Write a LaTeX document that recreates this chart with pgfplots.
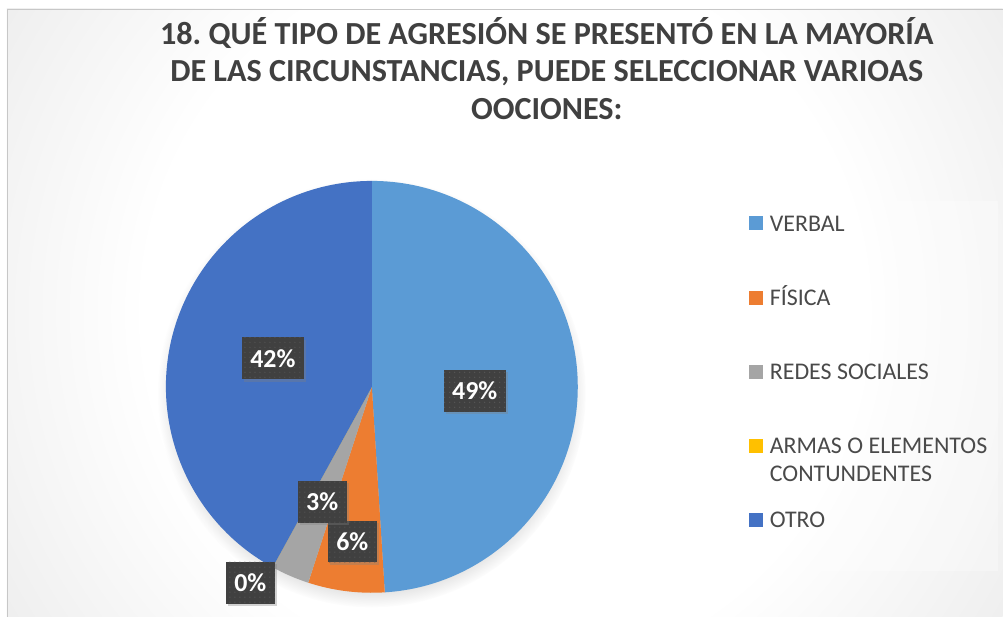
\documentclass[border=0pt]{standalone}
\usepackage{pgfplots}
\pgfplotsset{compat=1.18}
\usepackage{pgfplotstable}
\usepackage{fontspec}
\setmainfont{Carlito}
\usetikzlibrary{shadows,patterns.meta}
\frenchspacing

\definecolor{pc0}{HTML}{5B9BD5}
\definecolor{pc1}{HTML}{ED7D31}
\definecolor{pc2}{HTML}{A5A5A5}
\definecolor{pc3}{HTML}{FFC000}
\definecolor{pc4}{HTML}{4472C4}
\definecolor{bgedge}{HTML}{C2C2C2}
\definecolor{titlegray}{HTML}{404040}
\definecolor{legtext}{HTML}{4A4A4A}
\definecolor{labbg}{HTML}{404040}
\definecolor{labdot}{HTML}{5C5C5C}

\pgfdeclareradialshading{bgshade}{\pgfpoint{0bp}{0bp}}{color(0bp)=(white); color(14.5bp)=(white); color(48.4bp)=(bgedge); color(50bp)=(bgedge)}

% value = percentage, rfrac = label distance (fraction of radius), dang = label angle offset
\pgfplotstableread{
value rfrac dang
49 0.50 -4
6 0.757 0
3 0.607 0
0 1.12 -3
42 0.50 -1.6
}\piedata

\tikzset{lab/.style={fill=labbg, text=white, font=\bfseries\fontsize{26}{30}\selectfont,
  inner xsep=8.5bp, inner ysep=0bp, minimum height=42bp,
  postaction={pattern={Dots[radius=0.6bp, distance=5bp]}, pattern color=labdot},
  drop shadow={shadow xshift=2.5bp, shadow yshift=-2.5bp, opacity=0.35}},
  leg/.style={anchor=base west, inner sep=0pt, text=legtext, font=\fontsize{24}{28}\selectfont},
  ttl/.style={anchor=base, inner sep=0pt, text=titlegray, font=\bfseries\fontsize{32.3}{37}\selectfont}}

\begin{document}
\begin{tikzpicture}
\def\cum{0}
\pgfplotsforeachungrouped \i in {0,...,4}{%
  \pgfplotstablegetelem{\i}{value}\of\piedata \let\v\pgfplotsretval
  \pgfplotstablegetelem{\i}{rfrac}\of\piedata \let\rf\pgfplotsretval
  \pgfplotstablegetelem{\i}{dang}\of\piedata \let\da\pgfplotsretval
  \pgfmathsetmacro\sa{90-3.6*\cum}%
  \pgfmathsetmacro\cum{\cum+\v}%
  \pgfmathsetmacro\ea{90-3.6*\cum}%
  \pgfmathsetmacro\ma{(\sa+\ea)/2+\da}%
  \pgfmathsetmacro\lr{\rf*206}%
  \expandafter\xdef\csname pieS\i\endcsname{\sa}%
  \expandafter\xdef\csname pieE\i\endcsname{\ea}%
  \expandafter\xdef\csname pieM\i\endcsname{\ma}%
  \expandafter\xdef\csname pieR\i\endcsname{\lr}%
  \pgfmathtruncatemacro\vv{\v}%
  \expandafter\xdef\csname pieV\i\endcsname{\vv}%
}
\begin{axis}[width=1003bp, height=617bp, scale only axis,
  xmin=0, xmax=1003, ymin=0, ymax=617, hide axis, clip=false]
  % background
  \fill[white] (axis cs:0,0) rectangle (axis cs:1003,617);
  \begin{scope}
    \clip (axis cs:7,0) rectangle (axis cs:1003,608);
    \shade[shading=bgshade] (axis cs:505,304) circle [radius=620bp];
  \end{scope}
  \draw[color=black!22, line width=0.8bp] (axis cs:7.4,0) -- (axis cs:7.4,607.6) -- (axis cs:1003,607.6);
  % title
  \node[ttl] at (axis cs:547,572.7) {18. QUÉ TIPO DE AGRESIÓN SE PRESENTÓ EN LA MAYORÍA};
  \node[ttl] at (axis cs:547,535.3) {DE LAS CIRCUNSTANCIAS, PUEDE SELECCIONAR VARIOAS};
  \node[ttl] at (axis cs:547,497.9) {OOCIONES:};
  % pie shadow
  \fill[black, opacity=0.0, circular drop shadow={shadow xshift=0bp, shadow yshift=-6bp, shadow scale=1.04, opacity=0.4}] (axis cs:372,230) circle [radius=206bp];
  % slices
  \pgfplotsforeachungrouped \i in {0,...,4}{%
    \edef\temp{\noexpand\fill[pc\i] (axis cs:372,230) -- ++(\csname pieS\i\endcsname:206bp)
      arc[start angle=\csname pieS\i\endcsname, end angle=\csname pieE\i\endcsname, radius=206bp] -- cycle;}%
    \temp
  }
  % data labels
  \pgfplotsforeachungrouped \i in {0,...,4}{%
    \edef\temp{\noexpand\node[lab] at ([shift={(\csname pieM\i\endcsname:\csname pieR\i\endcsname bp)}]axis cs:372,230) {\csname pieV\i\endcsname\noexpand\%};}%
    \temp
  }
  % legend
  \fill[white, opacity=0.3] (axis cs:736,46) rectangle (axis cs:998,416);
  \fill[pc0] (axis cs:749,386.5) rectangle (axis cs:763,400.5);
  \fill[pc1] (axis cs:749,312) rectangle (axis cs:763,326);
  \fill[pc2] (axis cs:749,238) rectangle (axis cs:763,252);
  \fill[pc3] (axis cs:749,164) rectangle (axis cs:763,178);
  \fill[pc4] (axis cs:749,90) rectangle (axis cs:763,104);
  \node[leg] at (axis cs:770,385.8) {VERBAL};
  \node[leg] at (axis cs:770,311.3) {FÍSICA};
  \node[leg] at (axis cs:770,237.3) {REDES SOCIALES};
  \node[leg] at (axis cs:770,163.3) {ARMAS O ELEMENTOS};
  \node[leg] at (axis cs:770,135.3) {CONTUNDENTES};
  \node[leg] at (axis cs:770,89.3) {OTRO};
\end{axis}
\end{tikzpicture}
\end{document}
